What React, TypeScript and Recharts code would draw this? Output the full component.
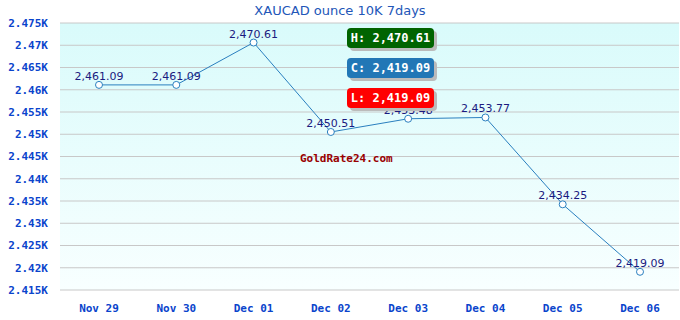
import React from "react";
import {
  LineChart,
  Line,
  XAxis,
  YAxis,
  CartesianGrid,
  LabelList,
  ReferenceArea,
} from "recharts";

const categories = ["Nov 29", "Nov 30", "Dec 01", "Dec 02", "Dec 03", "Dec 04", "Dec 05", "Dec 06"];
const prices = [2461.09, 2461.09, 2470.61, 2450.51, 2453.48, 2453.77, 2434.25, 2419.09];
const yTicks = [2415, 2420, 2425, 2430, 2435, 2440, 2445, 2450, 2455, 2460, 2465, 2470, 2475];
const badges = [
  { label: "H: 2,470.61", color: "#006400" },
  { label: "C: 2,419.09", color: "#2277b6" },
  { label: "L: 2,419.09", color: "#ff0000" },
];
const title = "XAUCAD ounce 10K 7days";
const watermark = "GoldRate24.com";

const data = categories.map((c, i) => ({ date: c, price: prices[i] }));

const fmtNum = (v: number) =>
  v.toLocaleString("en-US", { minimumFractionDigits: 2, maximumFractionDigits: 2 });

const mono = "'DejaVu Sans Mono', monospace";

export default function App() {
  return (
    <div style={{ position: "absolute", left: 0, top: 0, width: 680, height: 320, background: "#fff" }}>
      <LineChart
        width={680}
        height={320}
        data={data}
        margin={{ top: 23, right: 1, bottom: 0, left: 0 }}
      >
        <defs>
          <linearGradient id="bg" x1="0" y1="0" x2="0" y2="1">
            <stop offset="0%" stopColor="#d9fbfb" />
            <stop offset="100%" stopColor="#f8ffff" />
          </linearGradient>
        </defs>
        <CartesianGrid vertical={false} stroke="#c8c8c8" fill="url(#bg)" fillOpacity={1} />
        <ReferenceArea stroke="#c8c8c8" fill="none" strokeWidth={1} />
        <XAxis
          dataKey="date"
          axisLine={false}
          tickLine={false}
          height={30}
          padding={{ left: 39, right: 39 }}
          tick={{ fill: "#0a44cc", fontSize: 11, fontWeight: "bold", fontFamily: mono }}
          tickMargin={8}
        />
        <YAxis
          domain={[2415, 2475]}
          ticks={yTicks}
          width={60}
          axisLine={false}
          tickLine={false}
          interval={0}
          tickMargin={6}
          tick={{ fill: "#0a44cc", fontSize: 11, fontWeight: "bold", fontFamily: mono }}
          tickFormatter={(v: number) => `${v / 1000}K`}
        />
        <Line
          type="linear"
          dataKey="price"
          stroke="#2a7fbf"
          strokeWidth={1}
          dot={{ r: 3.5, fill: "#ffffff", stroke: "#2a7fbf", strokeWidth: 1 }}
          isAnimationActive={false}
        >
          <LabelList
            dataKey="price"
            position="top"
            offset={5}
            formatter={(v: number) => fmtNum(v)}
            style={{ fill: "#1a1a80", fontSize: 11, fontFamily: "'DejaVu Sans', sans-serif" }}
          />
        </Line>
      </LineChart>
      <svg width={680} height={320} style={{ position: "absolute", left: 0, top: 0, pointerEvents: "none" }}>
        <text
          x={340}
          y={15}
          textAnchor="middle"
          fill="#2256b8"
          fontSize={13}
          fontFamily="'DejaVu Sans', sans-serif"
        >
          {title}
        </text>
        {badges.map((b, i) => (
          <g key={b.label}>
            <rect x={350} y={31 + i * 30} width={87} height={20} rx={4} fill="#bbbbbb" />
            <rect x={347} y={28 + i * 30} width={87} height={20} rx={4} fill={b.color} />
            <text
              x={390.5}
              y={42 + i * 30}
              textAnchor="middle"
              fill="#ffffff"
              fontSize={12}
              fontWeight="bold"
              fontFamily={mono}
            >
              {b.label}
            </text>
          </g>
        ))}
        <text x={300} y={162} fill="#990000" fontSize={11} fontWeight="bold" fontFamily={mono}>
          {watermark}
        </text>
      </svg>
    </div>
  );
}
